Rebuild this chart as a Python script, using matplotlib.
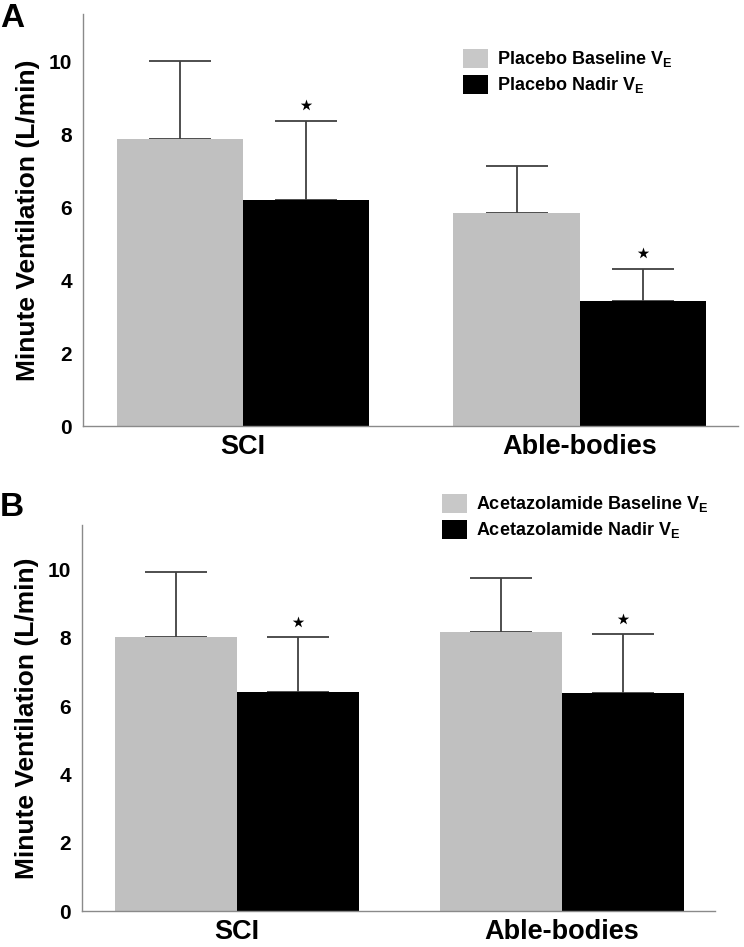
import matplotlib
matplotlib.use("Agg")
import matplotlib.pyplot as plt
import numpy as np
from matplotlib.patches import Patch

plt.rcParams["font.family"] = ["Liberation Sans", "DejaVu Sans"]
plt.rcParams["font.weight"] = "bold"
plt.rcParams["mathtext.fontset"] = "custom"
plt.rcParams["mathtext.rm"] = "Liberation Sans:bold"
plt.rcParams["mathtext.bf"] = "Liberation Sans:bold"

groups = ["SCI", "Able-bodies"]

placebo_baseline = [7.86, 5.84]
placebo_baseline_sd = [2.14, 1.29]
placebo_nadir = [6.20, 3.42]
placebo_nadir_sd = [2.17, 0.88]

acet_baseline = [8.03, 8.16]
acet_baseline_sd = [1.89, 1.58]
acet_nadir = [6.40, 6.37]
acet_nadir_sd = [1.63, 1.73]

placebo_labels = [r"Placebo Baseline V$_\mathbf{E}$", r"Placebo Nadir V$_\mathbf{E}$"]
acet_labels = [r"Acetazolamide Baseline V$_\mathbf{E}$", r"Acetazolamide Nadir V$_\mathbf{E}$"]

GREY = "#c0c0c0"
BLACK = "#000000"
SPINE = "#8a8a8a"
ERR = "#404040"


def draw_panel(fig, rect, base, base_sd, nadir, nadir_sd, labels, letter, letter_xy, legend_xy):
    ax = fig.add_axes(rect)
    x = np.arange(len(groups))
    w = 0.375
    ax.bar(x - w / 2, base, w, color=GREY, edgecolor="none", zorder=2)
    ax.bar(x + w / 2, nadir, w, color=BLACK, edgecolor="none", zorder=2)
    ax.errorbar(x - w / 2, base, yerr=[np.zeros(len(base)), base_sd], fmt="none",
                ecolor=ERR, elinewidth=1.3, capsize=22, capthick=1.3, zorder=1)
    ax.errorbar(x + w / 2, nadir, yerr=[np.zeros(len(nadir)), nadir_sd], fmt="none",
                ecolor=ERR, elinewidth=1.3, capsize=22, capthick=1.3, zorder=1)
    # significance stars just above the nadir error caps
    star_y = np.asarray(nadir) + np.asarray(nadir_sd) + 0.44
    ax.scatter(x + w / 2, star_y, marker="*", s=75, color=BLACK, linewidths=0, zorder=3)

    ax.set_xlim(-0.475, 1.47)
    ax.set_ylim(0, 11.3)
    ax.set_yticks([0, 2, 4, 6, 8, 10])
    ax.set_xticks(x)
    ax.set_xticklabels(groups, fontsize=19.5, fontweight="bold")
    ax.tick_params(axis="y", length=0, pad=8, labelsize=15)
    ax.tick_params(axis="x", length=0, pad=6)
    for side in ["top", "right"]:
        ax.spines[side].set_visible(False)
    for side in ["left", "bottom"]:
        ax.spines[side].set_color(SPINE)
        ax.spines[side].set_linewidth(1.0)
    ax.set_ylabel("Minute Ventilation (L/min)", fontsize=19, fontweight="bold", labelpad=6)

    handles = [Patch(facecolor="#c8c8c8", edgecolor="none"),
               Patch(facecolor=BLACK, edgecolor="none")]
    fig.legend(handles, labels, loc="upper left", bbox_to_anchor=legend_xy,
               bbox_transform=fig.transFigure, frameon=False,
               borderpad=0, borderaxespad=0, handlelength=1.38, handleheight=1.22,
               handletextpad=0.5, labelspacing=0.3, prop={"weight": "bold", "size": 13})
    fig.text(letter_xy[0], letter_xy[1], letter, fontsize=24, fontweight="bold",
             ha="left", va="top")
    return ax


fig = plt.figure(figsize=(7.44, 9.47), dpi=100)

draw_panel(fig, [83 / 744, 1 - 426 / 947, 655 / 744, 412 / 947],
           placebo_baseline, placebo_baseline_sd, placebo_nadir, placebo_nadir_sd,
           placebo_labels, "A", (0.0, 1 - 3 / 947), (463 / 744, 1 - 49 / 947))

draw_panel(fig, [82 / 744, 1 - 911 / 947, 633 / 744, 386 / 947],
           acet_baseline, acet_baseline_sd, acet_nadir, acet_nadir_sd,
           acet_labels, "B", (0.0, 1 - 492 / 947), (442 / 744, 1 - 494 / 947))

fig.savefig("out.png", dpi=100)
plt.close(fig)
